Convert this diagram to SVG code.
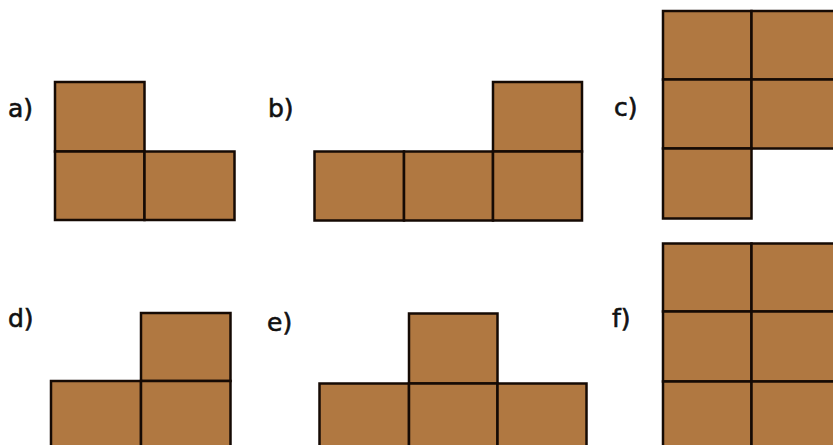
<svg xmlns="http://www.w3.org/2000/svg" width="833" height="445" viewBox="0 0 833 445">
<style>
.c{fill:#B07841;stroke:#150a04;stroke-width:2.5}
.l{font-family:"DejaVu Sans",Verdana,sans-serif;font-size:25px;fill:#111;stroke:#111;stroke-width:0.6}
</style>
<rect width="833" height="445" fill="#fff"/>
<g id="a">
<text class="l" x="8" y="117">a)</text>
<rect class="c" x="55" y="82" width="89.5" height="69.5"/>
<rect class="c" x="55" y="151.5" width="89.5" height="68.5"/>
<rect class="c" x="144.5" y="151.5" width="90" height="68.5"/>
</g>
<g id="b">
<text class="l" x="268" y="117">b)</text>
<rect class="c" x="493" y="82" width="89" height="69.5"/>
<rect class="c" x="314.5" y="151.5" width="89.5" height="69"/>
<rect class="c" x="404" y="151.5" width="89" height="69"/>
<rect class="c" x="493" y="151.5" width="89" height="69"/>
</g>
<g id="c">
<text class="l" x="614" y="116">c)</text>
<rect class="c" x="663" y="11" width="88.5" height="68.5"/>
<rect class="c" x="751.5" y="11" width="89" height="68.5"/>
<rect class="c" x="663" y="79.5" width="88.5" height="69"/>
<rect class="c" x="751.5" y="79.5" width="89" height="69"/>
<rect class="c" x="663" y="148.5" width="88.5" height="70"/>
</g>
<g id="d">
<text class="l" x="8" y="327">d)</text>
<rect class="c" x="141" y="313" width="89.5" height="68"/>
<rect class="c" x="51" y="381" width="90" height="69"/>
<rect class="c" x="141" y="381" width="89.5" height="69"/>
</g>
<g id="e">
<text class="l" x="267" y="331">e)</text>
<rect class="c" x="409" y="313.5" width="88.5" height="70"/>
<rect class="c" x="319.5" y="383.5" width="89.5" height="69"/>
<rect class="c" x="409" y="383.5" width="88.5" height="69"/>
<rect class="c" x="497.5" y="383.5" width="89" height="69"/>
</g>
<g id="f">
<text class="l" x="612" y="327">f)</text>
<rect class="c" x="663" y="243.5" width="88.5" height="68"/>
<rect class="c" x="751.5" y="243.5" width="89" height="68"/>
<rect class="c" x="663" y="311.5" width="88.5" height="70"/>
<rect class="c" x="751.5" y="311.5" width="89" height="70"/>
<rect class="c" x="663" y="381.5" width="88.5" height="70"/>
<rect class="c" x="751.5" y="381.5" width="89" height="70"/>
</g>
<g id="connectors"/>
</svg>
